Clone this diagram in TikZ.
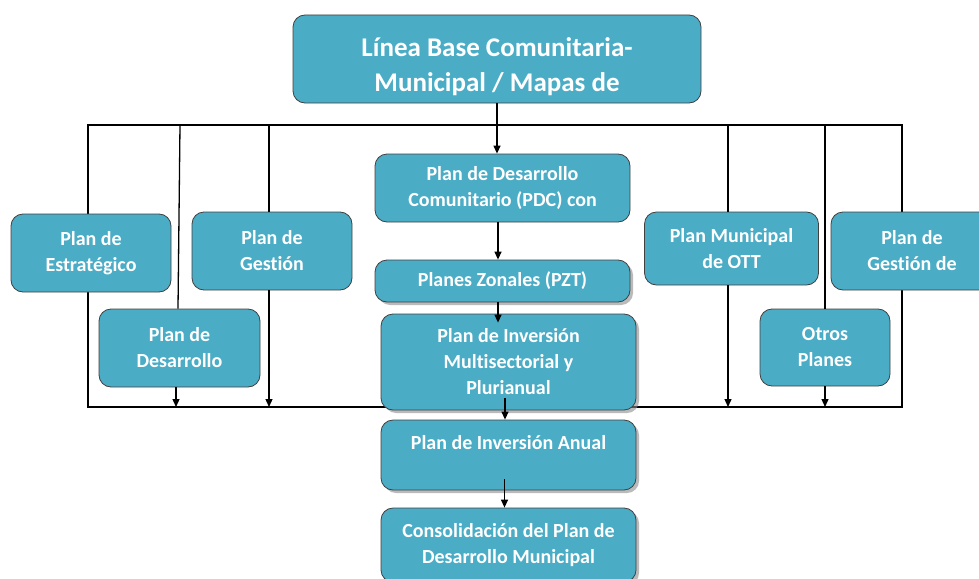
\documentclass[tikz,border=0pt]{standalone}
\usepackage{fontspec}
\setmainfont{Carlito}[Ligatures=NoCommon]
\usepackage{xcolor}
\usetikzlibrary{arrows.meta, shadows, backgrounds}

\definecolor{planblue}{RGB}{75,172,198}

\begin{document}
\begin{tikzpicture}[x=1pt, y=-1pt,
        plan/.style={rectangle, draw=black!75, line width=0.8pt, fill=planblue, rounded corners=12pt,
                     text=white, align=center, inner sep=3pt,
                     font=\bfseries\fontsize{20}{26}\selectfont},
        lifted/.style={drop shadow={shadow xshift=3pt, shadow yshift=-3pt, fill=black!45, opacity=0.6}},
        wire/.style={line width=1.3pt},
        arrow/.style={-{Triangle[length=8pt, width=7pt]}}
      ]
      \useasboundingbox (0,0) rectangle (979,578);
      \clip (0,0) rectangle (979,578);

      % Top box
      \node (base) [plan, minimum width=408pt, minimum height=88pt,
                    font=\bfseries\fontsize{27}{35}\selectfont] at (497,59) {\rule{0pt}{34pt}Línea Base Comunitaria-\\Municipal / Mapas de};

      % Central column
      \node (pdc) [plan, minimum width=255pt, minimum height=68pt] at (502.5,188) {Plan de Desarrollo\\Comunitario (PDC) con};
      \node (pzt) [plan, lifted, minimum width=255pt, minimum height=42pt] at (502.5,281) {Planes Zonales (PZT)};
      \node (pim) [plan, lifted, minimum width=255pt, minimum height=96pt] at (508.5,362) {Plan de Inversión\\Multisectorial y\\Plurianual};
      \node (pia) [plan, lifted, minimum width=255pt, minimum height=70pt] at (508.5,455) {Plan de Inversión Anual\\\mbox{}};
      \node (pdm) [plan, lifted, minimum width=255pt, minimum height=74pt] at (508.5,545) {Consolidación del Plan de\\Desarrollo Municipal};

      % Side plans
      \node (estr) [plan, minimum width=160pt, minimum height=78pt] at (91,253) {Plan de\\Estratégico};
      \node (desa) [plan, minimum width=161pt, minimum height=78pt] at (179.5,348) {Plan de\\Desarrollo};
      \node (gest) [plan, minimum width=160pt, minimum height=78pt] at (272,251) {Plan de\\Gestión};
      \node (ott) [plan, minimum width=174pt, minimum height=73pt] at (731.5,248.5) {Plan Municipal\\de OTT};
      \node (gestde) [plan, minimum width=162pt, minimum height=78pt] at (912,251) {Plan de\\Gestión de};
      \node (otros) [plan, minimum width=130pt, minimum height=77pt] at (825,347.5) {Otros\\Planes};

      % Frame behind the boxes
      \coordinate (ftl) at (88,125);
      \coordinate (fbr) at (902,407);
      \begin{scope}[on background layer]
        \draw [wire] (ftl) rectangle (fbr);
      \end{scope}

      % Central flow
      \draw [wire, arrow] (base.south) -- (base.south |- pdc.north);
      \draw [wire, arrow] ([xshift=-4.5pt]pdc.south) -- ([xshift=-4.5pt]pzt.north);
      \draw [wire, arrow] ([xshift=-4.5pt]pzt.south) -- ([xshift=-10.5pt, yshift=-9pt]pim.north);
      \draw [wire, arrow] ([xshift=-3.5pt, yshift=12pt]pim.south) -- ([xshift=-3.5pt]pia.north);
      \draw [wire, arrow] ([xshift=-4pt, yshift=11pt]pia.south) -- ([xshift=-4pt]pdm.north);

      % Side branches
      \draw [wire] ([xshift=0.5pt]desa.north |- ftl) -- ([xshift=-1.5pt]desa.north);
      \draw [wire, arrow] ([xshift=-3.5pt]desa.south) -- ([xshift=-3.5pt]desa.south |- fbr);
      \draw [wire] ([xshift=-3pt]gest.north |- ftl) -- ([xshift=-3pt]gest.north);
      \draw [wire, arrow] ([xshift=-3pt]gest.south) -- ([xshift=-3pt]gest.south |- fbr);
      \draw [wire] ([xshift=-3.5pt]ott.north |- ftl) -- ([xshift=-3.5pt]ott.north);
      \draw [wire, arrow] ([xshift=-3.5pt]ott.south) -- ([xshift=-3.5pt]ott.south |- fbr);
      \draw [wire] (otros.north |- ftl) -- (otros.north);
      \draw [wire, arrow] (otros.south) -- (otros.south |- fbr);

    \end{tikzpicture}
\end{document}
